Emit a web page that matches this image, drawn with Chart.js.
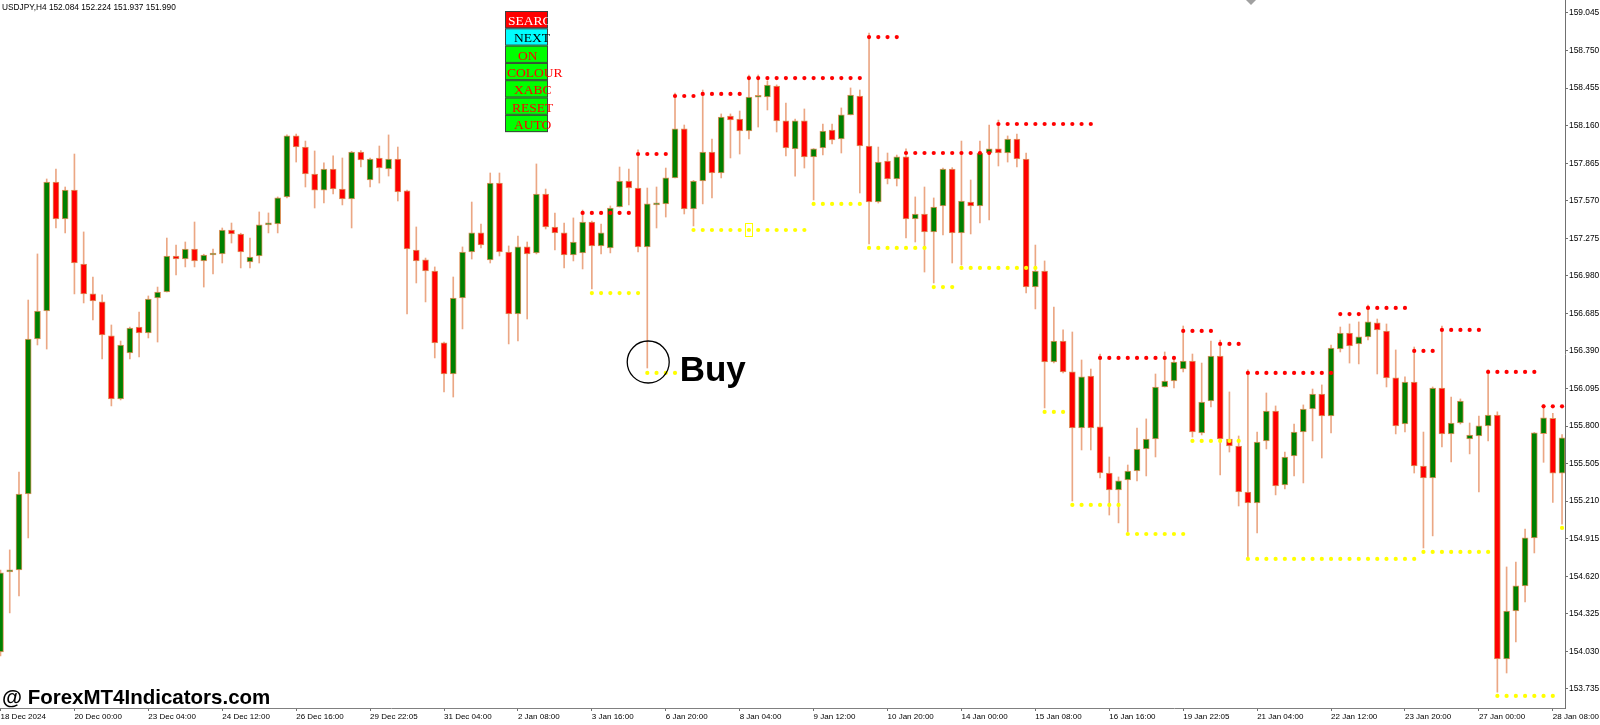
<!DOCTYPE html>
<html>
<head>
<meta charset="utf-8">
<title>USDJPY H4</title>
<script src="https://cdn.jsdelivr.net/npm/chart.js@4.4.1/dist/chart.umd.min.js"></script>
<style>
html, body { margin: 0; padding: 0; background: #ffffff; }
#wrap { width: 1600px; height: 725px; position: relative; }
</style>
</head>
<body>
<div id="wrap"><canvas id="myChart"></canvas></div>
<script>
// H4 candles, bar 0 = 18 Dec 2024
const opens = [
  154.025, 154.654, 154.669, 155.266, 156.484, 156.704, 157.717, 157.427, 157.654, 157.073,
  156.838, 156.775, 156.508, 156.013, 156.374, 156.578, 156.531, 156.806, 156.853, 157.136,
  157.112, 157.191, 157.097, 157.144, 157.152, 157.340, 157.309, 157.089, 157.136, 157.380,
  157.387, 157.600, 158.079, 157.992, 157.780, 157.654, 157.819, 157.662, 157.584, 157.953,
  157.733, 157.906, 157.819, 157.898, 157.647, 157.183, 157.105, 157.018, 156.453, 156.209,
  156.806, 157.167, 157.317, 157.105, 157.709, 157.167, 156.680, 157.207, 157.160, 157.623,
  157.364, 157.317, 157.144, 157.160, 157.403, 157.215, 157.199, 157.521, 157.725, 157.670,
  157.207, 157.537, 157.545, 157.749, 158.134, 157.505, 157.725, 157.953, 157.788, 158.236,
  158.212, 158.118, 158.383, 158.385, 158.471, 158.197, 157.977, 158.197, 157.914, 157.984,
  158.126, 158.055, 158.244, 158.393, 158.000, 157.560, 157.882, 157.741, 157.914, 157.427,
  157.466, 157.325, 157.529, 157.819, 157.317, 157.560, 157.529, 157.945, 157.977, 157.945,
  158.055, 157.898, 156.892, 157.018, 156.303, 156.468, 156.225, 155.785, 156.193, 155.793,
  155.431, 155.298, 155.376, 155.447, 155.620, 155.698, 156.107, 156.154, 156.248, 156.311,
  155.746, 155.997, 156.350, 155.698, 155.643, 155.282, 155.196, 155.683, 155.918, 155.337,
  155.565, 155.753, 155.934, 156.052, 155.879, 156.405, 156.531, 156.445, 156.500, 156.610,
  156.547, 156.178, 155.816, 156.146, 155.486, 155.392, 156.099, 155.738, 155.824, 155.698,
  155.722, 155.801, 155.887, 153.970, 154.347, 154.544, 154.921, 155.740, 155.860, 155.430
];
const highs = [
  154.669, 154.827, 155.439, 156.790, 157.152, 157.741, 157.819, 157.678, 157.937, 157.325,
  156.971, 156.830, 156.594, 156.468, 156.578, 156.696, 156.822, 156.892, 157.277, 157.222,
  157.246, 157.403, 157.150, 157.191, 157.356, 157.395, 157.315, 157.277, 157.482, 157.474,
  157.600, 158.087, 158.094, 158.039, 157.961, 157.867, 157.922, 157.906, 157.958, 157.965,
  157.905, 158.000, 158.087, 157.992, 157.654, 157.364, 157.120, 157.050, 156.460, 156.971,
  157.207, 157.560, 157.387, 157.788, 157.788, 157.215, 157.293, 157.246, 157.859, 157.662,
  157.474, 157.395, 157.435, 157.497, 157.410, 157.387, 157.529, 157.835, 157.819, 157.969,
  157.670, 157.678, 157.827, 158.416, 158.165, 157.730, 158.440, 158.055, 158.252, 158.252,
  158.275, 158.558, 158.558, 158.511, 158.480, 158.338, 158.212, 158.291, 157.980, 158.173,
  158.173, 158.299, 158.456, 158.440, 158.888, 157.992, 157.945, 157.929, 157.977, 157.600,
  157.678, 157.592, 157.827, 157.830, 158.039, 157.733, 158.039, 158.165, 158.204, 158.079,
  158.094, 157.945, 157.222, 157.097, 156.735, 156.555, 156.539, 156.319, 156.248, 156.366,
  155.557, 155.400, 155.494, 155.785, 155.856, 156.209, 156.382, 156.343, 156.586, 156.366,
  156.295, 156.468, 156.476, 156.068, 155.722, 156.241, 155.753, 156.060, 155.958, 155.596,
  155.816, 155.966, 156.091, 156.123, 156.437, 156.578, 156.602, 156.618, 156.751, 156.641,
  156.602, 156.398, 156.186, 156.421, 155.753, 156.107, 156.586, 156.028, 156.013, 155.824,
  155.879, 156.241, 155.911, 154.693, 154.732, 154.991, 155.750, 155.970, 155.900, 155.733
];
const lows = [
  153.994, 154.332, 154.465, 154.921, 156.437, 156.405, 157.356, 157.317, 156.838, 156.767,
  156.633, 156.327, 155.958, 156.005, 156.327, 156.343, 156.492, 156.460, 156.853, 156.987,
  157.050, 157.050, 156.892, 156.995, 157.081, 157.238, 157.042, 157.042, 157.081, 157.317,
  157.317, 157.592, 157.874, 157.678, 157.513, 157.552, 157.623, 157.537, 157.356, 157.835,
  157.678, 157.709, 157.764, 157.568, 156.680, 156.924, 156.775, 156.335, 156.068, 156.028,
  156.563, 157.112, 157.199, 157.081, 157.136, 156.445, 156.468, 156.641, 157.152, 157.348,
  157.183, 157.042, 157.097, 157.034, 156.877, 157.152, 157.160, 157.521, 157.537, 157.167,
  156.256, 157.356, 157.442, 157.749, 157.466, 157.372, 157.545, 157.592, 157.749, 157.906,
  157.937, 158.055, 158.149, 158.283, 158.110, 157.922, 157.764, 157.827, 157.576, 157.929,
  158.016, 157.945, 158.244, 157.631, 157.230, 157.552, 157.702, 157.686, 157.277, 157.246,
  157.010, 156.924, 157.301, 157.081, 157.065, 157.309, 157.395, 157.419, 157.843, 157.874,
  157.835, 156.845, 156.720, 155.942, 156.295, 156.217, 155.211, 155.612, 155.612, 155.392,
  155.101, 155.039, 154.968, 155.369, 155.408, 155.557, 156.107, 156.099, 156.225, 155.714,
  155.730, 155.950, 155.416, 155.596, 155.172, 154.772, 154.960, 155.620, 155.259, 155.306,
  155.408, 155.353, 155.683, 155.549, 155.746, 156.382, 156.295, 156.288, 156.476, 156.209,
  156.107, 155.738, 155.753, 155.431, 154.842, 154.937, 155.636, 155.518, 155.816, 155.581,
  155.282, 155.683, 153.710, 153.860, 154.104, 154.418, 154.803, 155.515, 155.200, 155.030
];
const closes = [
  154.646, 154.662, 155.266, 156.484, 156.704, 157.717, 157.427, 157.654, 157.081, 156.838,
  156.783, 156.515, 156.013, 156.437, 156.570, 156.531, 156.798, 156.853, 157.136, 157.112,
  157.191, 157.097, 157.144, 157.148, 157.340, 157.309, 157.167, 157.128, 157.380, 157.384,
  157.592, 158.079, 157.992, 157.780, 157.654, 157.819, 157.662, 157.584, 157.953, 157.890,
  157.898, 157.827, 157.898, 157.639, 157.191, 157.097, 157.018, 156.453, 156.209, 156.806,
  157.167, 157.317, 157.222, 157.709, 157.167, 156.680, 157.207, 157.152, 157.623, 157.364,
  157.317, 157.144, 157.246, 157.403, 157.215, 157.317, 157.513, 157.725, 157.670, 157.207,
  157.545, 157.552, 157.749, 158.134, 157.505, 157.725, 157.953, 157.788, 158.228, 158.204,
  158.118, 158.385, 158.388, 158.479, 158.197, 157.984, 158.197, 157.914, 157.977, 158.118,
  158.047, 158.244, 158.401, 158.000, 157.560, 157.874, 157.741, 157.914, 157.427, 157.466,
  157.325, 157.521, 157.819, 157.317, 157.568, 157.529, 157.945, 157.977, 157.945, 158.055,
  157.898, 156.892, 157.018, 156.303, 156.468, 156.225, 155.785, 156.186, 155.785, 155.431,
  155.298, 155.369, 155.447, 155.620, 155.698, 156.107, 156.154, 156.303, 156.311, 155.753,
  155.989, 156.350, 155.698, 155.643, 155.282, 155.196, 155.675, 155.918, 155.329, 155.557,
  155.753, 155.934, 156.052, 155.879, 156.413, 156.531, 156.429, 156.500, 156.618, 156.555,
  156.178, 155.801, 156.146, 155.486, 155.392, 156.099, 155.738, 155.824, 155.997, 155.730,
  155.801, 155.887, 153.970, 154.347, 154.544, 154.921, 155.746, 155.865, 155.430, 155.707
];

// time scale labels, one every 8 bars
const timeLabels = ['18 Dec 2024', '20 Dec 00:00', '23 Dec 04:00', '24 Dec 12:00', '26 Dec 16:00',
  '29 Dec 22:05', '31 Dec 04:00', '2 Jan 08:00', '3 Jan 16:00', '6 Jan 20:00', '8 Jan 04:00',
  '9 Jan 12:00', '10 Jan 20:00', '14 Jan 00:00', '15 Jan 08:00', '16 Jan 16:00', '19 Jan 22:05',
  '21 Jan 04:00', '22 Jan 12:00', '23 Jan 20:00', '27 Jan 00:00', '28 Jan 08:00'];
const timeLabelBars = [0, 8, 16, 24, 32, 40, 48, 56, 64, 72, 80, 88, 96, 104, 112, 120, 128, 136, 144, 152, 160, 168];

const priceTicks = [153.735, 154.030, 154.325, 154.620, 154.915, 155.210, 155.505, 155.800, 156.095,
  156.390, 156.685, 156.980, 157.275, 157.570, 157.865, 158.160, 158.455, 158.750, 159.045];

// indicator levels: [first bar, last bar, price]
const resistanceLevels = [[63, 68, 157.474], [69, 72, 157.937], [73, 75, 158.393], [76, 80, 158.409],
  [81, 93, 158.534], [94, 97, 158.856], [98, 107, 157.945], [108, 118, 158.173], [119, 127, 156.335],
  [128, 131, 156.547], [132, 134, 156.445], [135, 144, 156.217], [145, 147, 156.680], [148, 152, 156.728],
  [153, 155, 156.390], [156, 160, 156.555], [161, 166, 156.225], [167, 169, 155.955]];
const supportLevels = [[64, 69, 156.845], [70, 73, 156.217], [75, 87, 157.340], [88, 93, 157.545],
  [94, 100, 157.199], [101, 103, 156.892], [104, 112, 157.042], [113, 115, 155.911], [116, 121, 155.180],
  [122, 128, 154.952], [129, 134, 155.683], [135, 153, 154.756], [154, 161, 154.811], [162, 168, 153.680],
  [169, 169, 155.000]];

const buyMark = { bar: 70.1, price: 156.303, textBar: 73.5, textPrice: 156.154 };
const titleText = 'USDJPY,H4 152.084 152.224 151.937 151.990';
const buttonNames = ['SEARC', 'NEXT', 'ON', 'COLOUR', 'XABC', 'RESET', 'AUTO'];
const buttonBack = ['#ff0000', '#00ffff', '#00ff00', '#00ff00', '#00ff00', '#00ff00', '#00ff00'];
const buttonInk = ['#ffffff', '#000000', '#ff0000', '#ff0000', '#ff0000', '#ff0000', '#ff0000'];
const buttonTextX = [508, 514, 518, 507, 514, 512, 514];

const upColor = '#008000';
const downColor = '#ff0000';
const wickColor = '#eba784';
const edgeColor = '#de935f';

function levelPoints(levels){
    const pts = [];
    levels.forEach(function(l){
        for(let b = l[0]; b <= l[1]; b++){
            pts.push({x: b, y: l[2]});
        }
    });
    return pts;
}

const overlay = {
    id: 'overlay',
    afterDraw(chart){
        const c = chart.ctx;
        const xs = chart.scales.x;
        const ys = chart.scales.y;
        c.save();
        c.textBaseline = 'alphabetic';
        c.textAlign = 'left';

        // symbol line
        c.fillStyle = '#000';
        c.font = '8.3px "Liberation Sans"';
        c.fillText(titleText, 2, 10);

        // shift marker
        c.fillStyle = '#a0a0a0';
        c.beginPath();
        c.moveTo(1246, 0); c.lineTo(1256, 0); c.lineTo(1251, 5); c.closePath();
        c.fill();

        // button panel
        for(let i = 0; i < buttonNames.length; i++){
            const top = 11 + i * 17.3;
            c.fillStyle = buttonBack[i];
            c.fillRect(505, top, 43, 17.3);
            c.strokeStyle = '#404040';
            c.lineWidth = 1;
            c.strokeRect(505.5, top + 0.5, 42, 16.3);
            c.fillStyle = buttonInk[i];
            c.font = '13.5px "Liberation Serif"';
            c.fillText(buttonNames[i], buttonTextX[i], top + 14);
        }

        // small label box on the support line
        const fx = xs.getPixelForValue(81);
        const fy = ys.getPixelForValue(157.340);
        c.strokeStyle = '#ffff00';
        c.lineWidth = 1;
        c.strokeRect(Math.round(fx) - 3.5, Math.round(fy) - 6.5, 7, 13);

        // buy signal
        const cx = xs.getPixelForValue(buyMark.bar);
        const cy = ys.getPixelForValue(buyMark.price);
        c.beginPath();
        c.arc(cx, cy, 21, 0, Math.PI * 2);
        c.strokeStyle = '#000';
        c.lineWidth = 1.3;
        c.stroke();
        c.fillStyle = '#000';
        c.font = 'bold 35px "Liberation Sans"';
        c.fillText('Buy', xs.getPixelForValue(buyMark.textBar), ys.getPixelForValue(buyMark.textPrice));

        // watermark
        c.font = 'bold 20.5px "Liberation Sans"';
        c.fillText('@ ForexMT4Indicators.com', 2, 704);
        c.restore();
    }
};

function add_chart(){
    const wickData = [];
    const bodyData = [];
    const bodyColors = [];
    for(let i = 0; i < opens.length; i++){
        wickData.push({x: i, y: [lows[i], highs[i]]});
        bodyData.push({x: i, y: [opens[i], closes[i]]});
        bodyColors.push(closes[i] >= opens[i] ? upColor : downColor);
    }

    const data = {
        datasets: [{
            label: 'wicks',
            data: wickData,
            backgroundColor: wickColor,
            barThickness: 1,
            minBarLength: 1,
            grouped: false,
            order: 4
        }, {
            label: 'bodies',
            data: bodyData,
            backgroundColor: bodyColors,
            borderColor: edgeColor,
            borderWidth: 1,
            borderSkipped: false,
            barThickness: 6,
            minBarLength: 2,
            grouped: false,
            order: 3
        }, {
            type: 'scatter',
            label: 'resistance',
            data: levelPoints(resistanceLevels),
            pointRadius: 2.1,
            pointStyle: 'circle',
            backgroundColor: '#ff0000',
            borderWidth: 0,
            order: 1
        }, {
            type: 'scatter',
            label: 'support',
            data: levelPoints(supportLevels),
            pointRadius: 2.1,
            pointStyle: 'circle',
            backgroundColor: '#ffff00',
            borderWidth: 0,
            order: 1
        }]
    };

    const config = {
        type: 'bar',
        data: data,
        plugins: [overlay],
        options: {
            responsive: true,
            maintainAspectRatio: false,
            animation: false,
            layout: {padding: 0, autoPadding: false},
            plugins: {legend: {display: false}, tooltip: {enabled: false}},
            scales: {
                x: {
                    type: 'linear',
                    offset: false,
                    min: -0.054,
                    max: 169.32,
                    grid: {display: true, offset: false, drawOnChartArea: false, drawTicks: true, tickLength: 3, color: '#707070'},
                    border: {display: true, color: '#808080', width: 1},
                    ticks: {
                        autoSkip: false, maxRotation: 0, minRotation: 0, align: 'start', padding: 1,
                        color: '#000', font: {family: 'Liberation Sans', size: 8},
                        callback: function(v, i){ return timeLabels[i]; }
                    },
                    afterBuildTicks: function(s){ s.ticks = timeLabelBars.map(function(b){ return {value: b}; }); },
                    afterFit: function(s){
                        s.height = 17;
                        s.paddingLeft = 0; s.paddingRight = 0;
                    }
                },
                y: {
                    type: 'linear',
                    position: 'right',
                    min: 153.585,
                    max: 159.147,
                    grid: {display: true, drawOnChartArea: false, drawTicks: true, tickLength: 3, color: '#707070'},
                    border: {display: true, color: '#707070', width: 1},
                    ticks: {
                        padding: 1, color: '#000', font: {family: 'Liberation Sans', size: 8.4},
                        callback: function(v){ return v.toFixed(3); }
                    },
                    afterBuildTicks: function(s){ s.ticks = priceTicks.map(function(p){ return {value: p}; }); },
                    afterFit: function(s){
                        s.width = 35;
                        s.paddingTop = 0; s.paddingBottom = 0;
                    }
                }
            }
        }
    };
    const ctx = document.getElementById('myChart').getContext('2d');
    let chartStatus = Chart.getChart('myChart');
    if (chartStatus != undefined) {
        chartStatus.destroy();
    }
    const myChart = new Chart(ctx, config);
}

add_chart();
</script>
</body>
</html>
